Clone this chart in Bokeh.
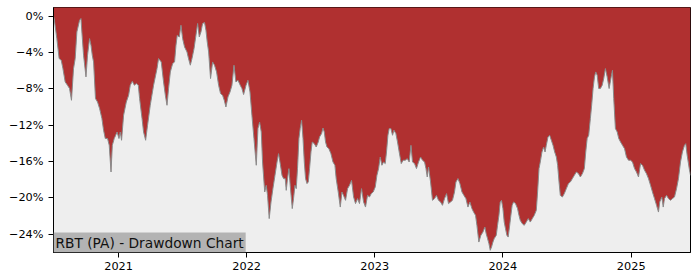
from datetime import datetime
from bokeh.plotting import figure
from bokeh.models import Range1d, FixedTicker, Label, ColumnDataSource
from bokeh.embed import file_html
from bokeh.resources import INLINE

# Dates as decimal years, drawdown in percent
date_years = [
    2020.493, 2020.498, 2020.519, 2020.537, 2020.553, 2020.566, 2020.584, 2020.602, 2020.618, 2020.633,
    2020.649, 2020.662, 2020.675, 2020.696, 2020.707, 2020.714, 2020.727, 2020.746, 2020.758, 2020.774,
    2020.785, 2020.795, 2020.805, 2020.820, 2020.836, 2020.852, 2020.870, 2020.883, 2020.896, 2020.914,
    2020.927, 2020.941, 2020.951, 2020.966, 2020.988, 2021.003, 2021.013, 2021.023, 2021.039, 2021.060,
    2021.078, 2021.091, 2021.107, 2021.123, 2021.138, 2021.154, 2021.164, 2021.183, 2021.195, 2021.211,
    2021.226, 2021.247, 2021.273, 2021.300, 2021.312, 2021.333, 2021.351, 2021.365, 2021.378, 2021.390,
    2021.404, 2021.422, 2021.437, 2021.448, 2021.458, 2021.474, 2021.487, 2021.500, 2021.515, 2021.534,
    2021.546, 2021.560, 2021.573, 2021.589, 2021.604, 2021.617, 2021.630, 2021.643, 2021.656, 2021.671,
    2021.682, 2021.692, 2021.703, 2021.718, 2021.734, 2021.749, 2021.765, 2021.781, 2021.796, 2021.812,
    2021.825, 2021.838, 2021.854, 2021.870, 2021.885, 2021.901, 2021.916, 2021.932, 2021.950, 2021.963,
    2021.976, 2021.995, 2022.010, 2022.026, 2022.041, 2022.057, 2022.075, 2022.088, 2022.101, 2022.114,
    2022.124, 2022.141, 2022.153, 2022.163, 2022.176, 2022.190, 2022.205, 2022.221, 2022.237, 2022.249,
    2022.262, 2022.276, 2022.288, 2022.301, 2022.309, 2022.319, 2022.330, 2022.340, 2022.356, 2022.366,
    2022.377, 2022.387, 2022.397, 2022.408, 2022.418, 2022.429, 2022.440, 2022.450, 2022.460, 2022.471,
    2022.481, 2022.491, 2022.502, 2022.512, 2022.528, 2022.543, 2022.559, 2022.569, 2022.585, 2022.596,
    2022.606, 2022.616, 2022.627, 2022.642, 2022.658, 2022.674, 2022.689, 2022.699, 2022.715, 2022.731,
    2022.744, 2022.756, 2022.772, 2022.788, 2022.803, 2022.819, 2022.835, 2022.850, 2022.866, 2022.881,
    2022.897, 2022.913, 2022.928, 2022.944, 2022.959, 2022.973, 2022.988, 2023.004, 2023.017, 2023.030,
    2023.043, 2023.056, 2023.069, 2023.082, 2023.092, 2023.103, 2023.113, 2023.126, 2023.139, 2023.150,
    2023.165, 2023.178, 2023.191, 2023.207, 2023.222, 2023.238, 2023.254, 2023.269, 2023.283, 2023.295,
    2023.311, 2023.326, 2023.342, 2023.358, 2023.373, 2023.389, 2023.400, 2023.410, 2023.420, 2023.436,
    2023.451, 2023.467, 2023.482, 2023.498, 2023.514, 2023.529, 2023.545, 2023.561, 2023.576, 2023.592,
    2023.607, 2023.623, 2023.634, 2023.650, 2023.665, 2023.681, 2023.696, 2023.712, 2023.728, 2023.743,
    2023.759, 2023.773, 2023.787, 2023.798, 2023.813, 2023.829, 2023.845, 2023.860, 2023.870, 2023.881,
    2023.892, 2023.902, 2023.912, 2023.923, 2023.933, 2023.949, 2023.959, 2023.970, 2023.980, 2023.990,
    2024.001, 2024.011, 2024.021, 2024.032, 2024.042, 2024.052, 2024.063, 2024.073, 2024.084, 2024.099,
    2024.115, 2024.126, 2024.136, 2024.151, 2024.167, 2024.183, 2024.198, 2024.214, 2024.230, 2024.245,
    2024.261, 2024.271, 2024.282, 2024.292, 2024.305, 2024.318, 2024.329, 2024.339, 2024.352, 2024.365,
    2024.378, 2024.391, 2024.404, 2024.417, 2024.427, 2024.438, 2024.448, 2024.464, 2024.479, 2024.495,
    2024.511, 2024.526, 2024.542, 2024.557, 2024.573, 2024.589, 2024.604, 2024.620, 2024.635, 2024.646,
    2024.657, 2024.669, 2024.682, 2024.692, 2024.703, 2024.714, 2024.724, 2024.735, 2024.747, 2024.760,
    2024.774, 2024.786, 2024.799, 2024.813, 2024.828, 2024.844, 2024.854, 2024.864, 2024.877, 2024.891,
    2024.903, 2024.917, 2024.932, 2024.948, 2024.963, 2024.979, 2024.995, 2025.010, 2025.026, 2025.041,
    2025.057, 2025.073, 2025.088, 2025.104, 2025.119, 2025.135, 2025.151, 2025.166, 2025.182, 2025.198,
    2025.213, 2025.223, 2025.239, 2025.250, 2025.260, 2025.276, 2025.291, 2025.307, 2025.322, 2025.338,
    2025.354, 2025.369, 2025.385, 2025.400, 2025.416, 2025.426, 2025.437, 2025.453, 2025.463,
]
drawdown_pct = [
    0.00, -0.25, -2.46, -4.66, -4.84, -5.72, -7.23, -7.60, -7.96, -9.25,
    -5.76, -4.66, -1.73, -0.44, -0.25, -1.73, -4.29, -6.68, -4.29, -2.46,
    -3.19, -4.29, -5.03, -9.06, -9.44, -10.16, -11.26, -12.55, -13.46, -13.46,
    -14.20, -17.14, -14.20, -13.46, -12.74, -13.46, -12.74, -13.65, -10.90, -9.44,
    -8.70, -7.60, -7.16, -7.60, -7.41, -7.60, -9.06, -11.26, -12.74, -13.65,
    -12.00, -9.80, -7.60, -5.76, -4.66, -5.03, -7.23, -8.70, -9.80, -7.96,
    -6.13, -5.21, -5.03, -3.19, -2.09, -2.28, -0.99, -2.46, -3.38, -3.93,
    -4.66, -5.39, -4.66, -3.56, -2.09, -0.80, -2.28, -1.73, -0.80, -0.69,
    -1.54, -2.83, -3.93, -6.86, -5.03, -5.39, -6.13, -7.60, -8.51, -8.70,
    -9.25, -9.99, -8.88, -8.33, -7.60, -5.39, -7.23, -7.05, -7.60, -7.96,
    -8.62, -7.60, -7.05, -8.33, -10.90, -13.46, -16.40, -12.36, -11.64, -12.74,
    -16.04, -19.34, -18.61, -19.71, -22.27, -20.44, -18.97, -17.51, -16.04, -15.12,
    -16.22, -17.51, -17.87, -17.87, -19.16, -17.87, -16.77, -18.61, -21.17, -20.07,
    -18.61, -18.97, -16.77, -13.46, -12.36, -11.45, -13.46, -16.04, -17.87, -18.42,
    -18.24, -16.77, -14.94, -13.84, -14.02, -14.39, -13.84, -13.29, -12.91, -12.30,
    -12.74, -13.84, -14.39, -14.57, -15.12, -16.04, -16.40, -17.87, -19.34, -21.00,
    -19.34, -19.71, -20.26, -18.97, -18.61, -18.06, -19.89, -20.62, -20.07, -20.62,
    -18.97, -20.44, -21.00, -19.71, -19.89, -19.52, -19.34, -18.79, -17.51, -16.77,
    -15.49, -16.40, -16.04, -16.22, -14.94, -13.10, -12.36, -12.36, -13.10, -12.55,
    -12.91, -13.84, -14.94, -16.22, -15.85, -15.85, -15.67, -16.04, -14.20, -16.04,
    -16.22, -16.77, -16.04, -15.49, -15.85, -16.04, -16.77, -17.69, -16.59, -18.24,
    -20.26, -20.07, -19.71, -20.26, -20.44, -20.81, -20.07, -19.52, -20.62, -20.44,
    -20.26, -19.34, -18.24, -17.87, -18.42, -19.34, -19.71, -20.07, -21.00, -20.44,
    -21.17, -21.58, -21.91, -23.01, -24.85, -24.11, -23.75, -23.20, -23.92, -24.47,
    -25.03, -25.76, -25.40, -24.85, -24.47, -24.11, -23.01, -21.91, -20.44, -20.26,
    -21.17, -22.65, -23.37, -24.11, -24.30, -23.20, -21.91, -20.81, -20.44, -20.62,
    -21.17, -21.91, -22.46, -22.82, -23.01, -22.65, -22.27, -22.65, -22.27, -21.91,
    -21.36, -19.34, -16.77, -16.04, -14.94, -14.39, -14.94, -14.20, -13.29, -13.10,
    -13.65, -14.20, -14.94, -15.49, -16.40, -18.24, -19.71, -19.89, -19.52, -18.97,
    -18.42, -18.24, -17.87, -17.51, -17.14, -17.32, -17.69, -17.32, -16.77, -14.94,
    -13.46, -13.10, -11.26, -9.80, -7.96, -6.68, -6.13, -6.50, -7.96, -7.96,
    -7.60, -6.86, -5.76, -6.68, -7.96, -6.68, -5.95, -9.06, -12.36, -12.74,
    -13.46, -13.84, -14.20, -14.57, -15.49, -15.85, -15.85, -16.04, -16.77, -17.14,
    -17.69, -16.22, -16.40, -16.95, -17.32, -17.87, -18.61, -19.34, -20.07, -20.81,
    -21.55, -20.44, -19.89, -21.00, -20.07, -19.71, -20.07, -20.26, -20.07, -19.89,
    -18.97, -17.87, -16.04, -14.94, -14.20, -14.02, -15.30, -16.77, -17.51,
]
tick_years = [2021, 2022, 2023, 2024, 2025]
y_ticks = [0, -4, -8, -12, -16, -20, -24]
title_text = "RBT (PA) - Drawdown Chart"


def to_dt(y):
    y0 = int(y // 1)
    a = datetime(y0, 1, 1)
    b = datetime(y0 + 1, 1, 1)
    return a + (b - a) * (y - y0)


def to_ms(d):
    return (d - datetime(1970, 1, 1)).total_seconds() * 1000.0


dates = [to_dt(y) for y in date_years]
src = ColumnDataSource(dict(date=dates, dd=drawdown_pct))

x_start = to_dt(2020.493)
x_end = to_dt(2025.463)
y_min, y_max = -26.0, 0.96

p = figure(width=700, height=280, x_axis_type="datetime",
           x_range=Range1d(x_start, x_end), y_range=Range1d(y_min, y_max),
           output_backend="svg", toolbar_location=None,
           min_border_left=53, min_border_right=10, min_border_top=7, min_border_bottom=28)

p.background_fill_color = "#eeeeee"
p.border_fill_color = "white"
p.xgrid.visible = False
p.ygrid.visible = False
p.outline_line_color = "black"
p.outline_line_width = 1
p.outline_line_alpha = 1

p.varea(x="date", y1="dd", y2=2.0, source=src, fill_color="#b03030", fill_alpha=1.0)
p.line(x="date", y="dd", source=src, line_color="#8a8a8a", line_width=1)

# axes
p.yaxis.ticker = FixedTicker(ticks=y_ticks)
p.yaxis.major_label_overrides = {float(t): ("0%" if t == 0 else "\u2212%d%%" % abs(t)) for t in y_ticks}
x_tick_ms = [to_ms(datetime(y, 1, 1)) for y in tick_years]
p.xaxis.ticker = FixedTicker(ticks=x_tick_ms)
p.xaxis.major_label_overrides = {m: str(y) for m, y in zip(x_tick_ms, tick_years)}

for ax in (p.xaxis[0], p.yaxis[0]):
    ax.axis_line_color = "black"
    ax.axis_line_width = 1
    ax.major_tick_line_color = "black"
    ax.major_tick_out = 5
    ax.major_tick_in = 0
    ax.minor_tick_line_color = None
    ax.major_label_text_font = "DejaVu Sans"
    ax.major_label_text_font_size = "11.3px"
    ax.major_label_text_color = "black"
p.xaxis.major_label_standoff = 4
p.yaxis.major_label_standoff = 5

label = Label(x=to_ms(x_start), y=y_min, x_units="data", y_units="data",
              text=title_text, text_font="DejaVu Sans", text_font_size="13.75px",
              text_color="#111111", anchor="bottom_left",
              background_fill_color="#b3b3b3", background_fill_alpha=1.0,
              padding=2)
p.add_layout(label)

open("out.html", "w").write(file_html(p, INLINE))
